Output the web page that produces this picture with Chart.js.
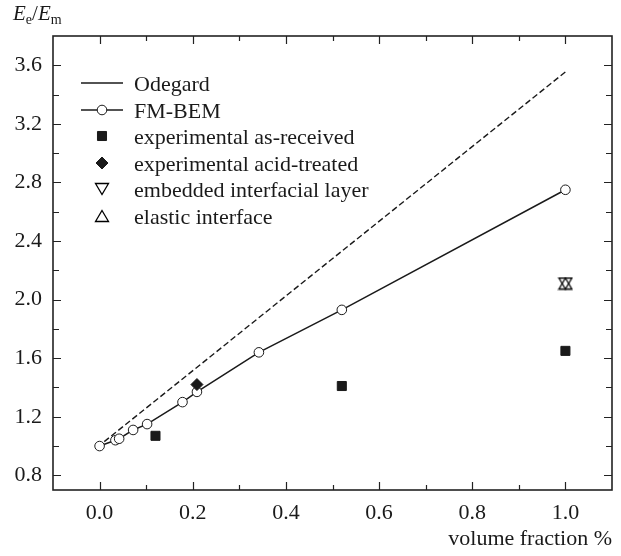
<!DOCTYPE html>
<html>
<head>
<meta charset="utf-8">
<script src="https://cdn.jsdelivr.net/npm/chart.js@4.4.1/dist/chart.umd.min.js"></script>
<style>
  html, body { margin: 0; padding: 0; background: #fff; }
</style>
</head>
<body>
<canvas id="chart" width="621" height="556"></canvas>
<script>
// data
const odegardX = [0.01, 1.0];
const odegardY = [1.03, 3.555];
const fmBemX = [0, 0.034, 0.042, 0.072, 0.102, 0.178, 0.209, 0.342, 0.52, 1.0];
const fmBemY = [1.0, 1.04, 1.05, 1.11, 1.15, 1.30, 1.37, 1.64, 1.93, 2.75];
const asReceivedX = [0.12, 0.52, 1.0];
const asReceivedY = [1.07, 1.41, 1.65];
const acidTreatedX = [0.209];
const acidTreatedY = [1.42];
const embeddedX = [1.0];
const embeddedY = [2.11];
const elasticX = [1.0];
const elasticY = [2.11];

const seriesNames = ['Odegard', 'FM-BEM', 'experimental as-received', 'experimental acid-treated',
  'embedded interfacial layer', 'elastic interface'];
const xTickLabels = ['0.0', '0.2', '0.4', '0.6', '0.8', '1.0'];
const yTickLabels = ['0.8', '1.2', '1.6', '2.0', '2.4', '2.8', '3.2', '3.6'];
// every tick mark on the y axis (labelled ones plus the minor ones between)
const yTickValues = [0.8, 1.0, 1.2, 1.4, 1.6, 1.8, 2.0, 2.2, 2.4, 2.6, 2.8, 3.0, 3.2, 3.4, 3.6];

const ink = '#1a1a1a';
const serif = '"Liberation Serif", "Times New Roman", serif';

const pts = (xs, ys) => xs.map((x, i) => ({ x, y: ys[i] }));

// open triangles whose bounding box is centred on the point, like the figure
function triangleImage(down) {
  const c = document.createElement('canvas');
  c.width = 16; c.height = 14;
  const g = c.getContext('2d');
  g.strokeStyle = '#000';
  g.lineWidth = 1.3;
  g.beginPath();
  if (down) {
    g.moveTo(1.5, 1.5); g.lineTo(14.5, 1.5); g.lineTo(8, 12.5);
  } else {
    g.moveTo(8, 1.5); g.lineTo(14.5, 12.5); g.lineTo(1.5, 12.5);
  }
  g.closePath();
  g.stroke();
  return c;
}

const markerSet = (label, xs, ys, style, radius, fill) => ({
  label,
  data: pts(xs, ys),
  showLine: false,
  pointStyle: style,
  pointRadius: radius,
  pointBackgroundColor: fill,
  pointBorderColor: ink,
  pointBorderWidth: 1,
  order: 0
});

const datasets = [
  {
    label: seriesNames[0],
    data: pts(odegardX, odegardY),
    showLine: true,
    borderColor: ink,
    borderWidth: 1.4,
    borderDash: [6, 3],
    pointRadius: 0,
    order: 5
  },
  {
    label: seriesNames[1],
    data: pts(fmBemX, fmBemY),
    showLine: true,
    borderColor: ink,
    borderWidth: 1.5,
    pointStyle: 'circle',
    pointRadius: 4.8,
    pointBackgroundColor: '#fff',
    pointBorderColor: ink,
    pointBorderWidth: 1,
    order: 4
  },
  markerSet(seriesNames[2], asReceivedX, asReceivedY, 'rect', 6.4, ink),
  markerSet(seriesNames[3], acidTreatedX, acidTreatedY, 'rectRot', 6, ink),
  markerSet(seriesNames[4], embeddedX, embeddedY, triangleImage(true), 7, 'rgba(0,0,0,0)'),
  markerSet(seriesNames[5], elasticX, elasticY, triangleImage(false), 7, 'rgba(0,0,0,0)')
];

// frame, inward ticks on all four sides
const frameTicks = {
  id: 'frameTicks',
  afterDraw(chart) {
    const { ctx, chartArea: a, scales: { x, y } } = chart;
    ctx.save();
    ctx.strokeStyle = '#222';
    ctx.lineWidth = 1.6;
    ctx.strokeRect(a.left, a.top, a.right - a.left, a.bottom - a.top);
    ctx.lineWidth = 1.2;
    ctx.beginPath();
    x.ticks.forEach(t => {
      if (t.value <= x.min + 1e-6 || t.value >= x.max - 1e-6) return;
      const px = Math.round(x.getPixelForValue(t.value)) + 0.5;
      const len = xTickLabels.includes(t.value.toFixed(1)) ? 8 : 5;
      ctx.moveTo(px, a.bottom); ctx.lineTo(px, a.bottom - len);
      ctx.moveTo(px, a.top); ctx.lineTo(px, a.top + len);
    });
    y.ticks.forEach(t => {
      if (t.value <= y.min + 1e-6 || t.value >= y.max - 1e-6) return;
      const py = Math.round(y.getPixelForValue(t.value)) + 0.5;
      const len = yTickLabels.includes(t.value.toFixed(1)) ? 8 : 6;
      ctx.moveTo(a.left, py); ctx.lineTo(a.left + len, py);
      ctx.moveTo(a.right, py); ctx.lineTo(a.right - len, py);
    });
    ctx.stroke();
    ctx.restore();
  }
};

// legend inside the plot, Odegard sample drawn solid as in the figure
const innerLegend = {
  id: 'innerLegend',
  afterDraw(chart) {
    const { ctx, chartArea: a } = chart;
    const x0 = a.left + 28, x1 = a.left + 70, xm = Math.round((x0 + x1) / 2);
    ctx.save();
    ctx.font = '22px ' + serif;
    ctx.fillStyle = ink;
    ctx.textBaseline = 'alphabetic';
    chart.data.datasets.forEach((ds, i) => {
      const yRow = Math.round(83 + i * 26.6);
      ctx.strokeStyle = ink;
      if (i < 2) {
        ctx.lineWidth = 1.4;
        ctx.setLineDash([]);
        ctx.beginPath();
        ctx.moveTo(x0, yRow); ctx.lineTo(x1, yRow);
        ctx.stroke();
      }
      if (i > 0) {
        ctx.lineWidth = ds.pointBorderWidth;
        ctx.fillStyle = ds.pointBackgroundColor;
        Chart.helpers.drawPoint(ctx, {
          pointStyle: ds.pointStyle,
          radius: ds.pointRadius,
          rotation: 0,
          borderWidth: ds.pointBorderWidth
        }, xm, yRow);
      }
      ctx.fillStyle = ink;
      ctx.fillText(ds.label, a.left + 81, yRow + 8);
    });
    ctx.restore();
  }
};

// y axis title E_e / E_m in the top-left corner
const yTitle = {
  id: 'yTitle',
  afterDraw(chart) {
    const { ctx } = chart;
    const big = 'italic 21px ' + serif, up = '21px ' + serif, sub = '14px ' + serif;
    let x = 13;
    const base = 20;
    const put = (txt, font, dy) => {
      ctx.font = font;
      ctx.fillText(txt, x, base + dy);
      x += ctx.measureText(txt).width;
    };
    ctx.save();
    ctx.fillStyle = ink;
    put('E', big, 0);
    put('e', sub, 4);
    put('/', up, 0);
    put('E', big, 0);
    put('m', sub, 4);
    ctx.restore();
  }
};

new Chart(document.getElementById('chart'), {
  type: 'scatter',
  data: { datasets },
  options: {
    responsive: false,
    animation: false,
    layout: { padding: { top: 36, right: 9, left: 0, bottom: 0 } },
    plugins: {
      legend: { display: false },
      tooltip: { enabled: false }
    },
    elements: { line: { tension: 0 } },
    scales: {
      x: {
        type: 'linear',
        min: -0.1,
        max: 1.1,
        grid: { display: false },
        border: { display: false },
        afterFit: (scale) => { scale.height = 66; },
        ticks: {
          stepSize: 0.1,
          padding: 2,
          autoSkip: false,
          maxRotation: 0,
          color: ink,
          font: { family: serif, size: 22 },
          callback: (v) => {
            const s = Number(v).toFixed(1);
            return xTickLabels.includes(s) ? s : '';
          }
        },
        title: {
          display: true,
          text: 'volume fraction %',
          align: 'end',
          color: ink,
          font: { family: serif, size: 22 },
          padding: { top: 0, bottom: 4 }
        }
      },
      y: {
        type: 'linear',
        min: 0.7,
        max: 3.8,
        grid: { display: false },
        border: { display: false },
        afterFit: (scale) => { scale.width = 53; },
        afterBuildTicks: (scale) => {
          scale.ticks = yTickValues.map(value => ({ value }));
        },
        ticks: {
          padding: 3,
          autoSkip: false,
          color: ink,
          font: { family: serif, size: 22 },
          callback: (v) => {
            const s = Number(v).toFixed(1);
            return yTickLabels.includes(s) ? s : '';
          }
        }
      }
    }
  },
  plugins: [frameTicks, innerLegend, yTitle]
});
</script>
</body>
</html>
